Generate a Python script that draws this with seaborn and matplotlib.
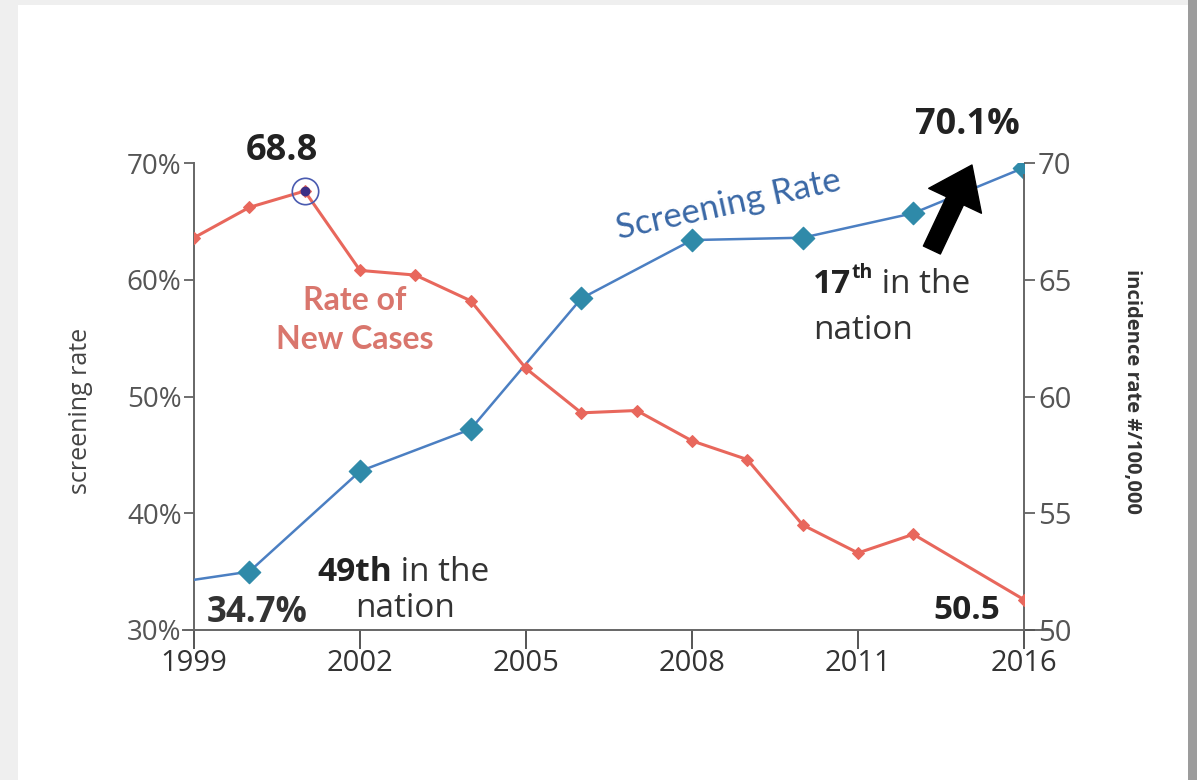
import matplotlib
matplotlib.use("Agg")
import matplotlib.pyplot as plt
import numpy as np
import seaborn as sns
from matplotlib.patches import Rectangle
from matplotlib.ticker import PercentFormatter

# screening rate (%), left axis
screen_years = [1999, 2000, 2002, 2004, 2006, 2008, 2010, 2012, 2016]
screen_rate = [34.3, 35.0, 43.6, 47.2, 58.4, 63.4, 63.6, 65.7, 69.6]

# incidence rate (#/100,000), right axis
case_years = [1999, 2000, 2001, 2002, 2003, 2004, 2005, 2006, 2007, 2008,
              2009, 2010, 2011, 2012, 2016]
case_rate = [66.8, 68.1, 68.8, 65.4, 65.2, 64.1, 61.2, 59.3, 59.4, 58.1,
             57.3, 54.5, 53.3, 54.1, 51.3]

year_ticks = [1999, 2002, 2005, 2008, 2011, 2016]
pct_ticks = [30, 40, 50, 60, 70]
inc_ticks = [50, 55, 60, 65, 70]

BLUE_LINE = "#4b7fc2"
BLUE_MARK = "#2f8aa9"
RED = "#e8675c"
TICK = "#555555"

sns.set_style("ticks")
plt.rcParams["font.family"] = ["Open Sans", "DejaVu Sans"]


def squeeze_late(x):
    # the source chart draws 2012-2016 at half the yearly spacing
    x = np.asarray(x, dtype=float)
    return np.where(x <= 2012, x, 2012 + (x - 2012) / 2)


def unsqueeze_late(x):
    x = np.asarray(x, dtype=float)
    return np.where(x <= 2012, x, 2012 + (x - 2012) * 2)


fig = plt.figure(figsize=(11.97, 7.8), dpi=100)
fig.patch.set_facecolor("#efefef")
fig.patches.append(Rectangle((18 / 1197, 0), 1170 / 1197, 1 - 5 / 780,
                             transform=fig.transFigure, facecolor="white",
                             edgecolor="none", zorder=-2))
fig.patches.append(Rectangle((1188 / 1197, 0), 9 / 1197, 1,
                             transform=fig.transFigure, facecolor="#9c9c9c",
                             edgecolor="none", zorder=-1))

ax = fig.add_axes([194 / 1197, 1 - 630 / 780, 830 / 1197, 467 / 780])
ax.patch.set_alpha(0)
ax2 = ax.twinx()
ax2.patch.set_alpha(0)

# screening rate
sns.lineplot(x=screen_years, y=screen_rate, ax=ax, color=BLUE_LINE,
             linewidth=1.8, zorder=3)
sns.scatterplot(x=screen_years[1:], y=screen_rate[1:], ax=ax, marker="D",
                s=130, color=BLUE_MARK, edgecolor=BLUE_MARK, zorder=4)

# incidence rate
sns.lineplot(x=case_years, y=case_rate, ax=ax2, color=RED, linewidth=2.2,
             marker="D", markersize=6.5, markeredgecolor=RED, zorder=3)
peak = case_rate.index(max(case_rate))
ax2.plot(case_years[peak], case_rate[peak], "o", markersize=6,
         color="#3b2f86", zorder=5)
ax2.plot(case_years[peak], case_rate[peak], "o", markersize=19,
         markerfacecolor="none", markeredgecolor="#4a5bb0",
         markeredgewidth=1.2, zorder=5)

ax.set_xscale("function", functions=(squeeze_late, unsqueeze_late))
ax.set_xlim(1999, 2016)
ax.set_ylim(30, 70)
ax2.set_ylim(50, 69.75)

ax.set_xticks(year_ticks)
ax.set_xticklabels([str(y) for y in year_ticks])
ax.set_yticks(pct_ticks)
ax.yaxis.set_major_formatter(PercentFormatter(decimals=0))
ax2.set_yticks(inc_ticks)

for a in (ax, ax2):
    for s in a.spines.values():
        s.set_color("#666666")
        s.set_linewidth(1.4)
ax.spines["top"].set_visible(False)
ax.spines["right"].set_visible(False)
ax.spines["bottom"].set_bounds(1998.8, 2016.9)
ax2.spines["top"].set_visible(False)
ax2.spines["left"].set_visible(False)
ax2.spines["bottom"].set_visible(False)
ax2.spines["right"].set_bounds(50, 69.5)

ax.tick_params(axis="x", direction="out", length=14, width=1.4, color="#555",
               labelsize=21, labelcolor="#333", pad=0)
ax.tick_params(axis="y", direction="out", length=7, width=1.2, color="#555",
               labelsize=20, labelcolor=TICK, pad=2)
ax2.tick_params(axis="y", direction="out", length=8, width=1.2, color="#555",
                labelsize=21, labelcolor=TICK, pad=2)

ax.set_xlabel("")
ax.set_ylabel("screening rate", fontsize=18, color="#444")
ax.yaxis.set_label_coords(-0.122, 0.47)
ax2.set_ylabel("incidence rate #/100,000", fontsize=14.5, fontweight="bold",
               color="#333", rotation=270, va="center")
ax2.yaxis.set_label_coords(1.13, 0.51)

# value labels
ax2.annotate("68.8", (case_years[peak], case_rate[peak]), xytext=(-23, 40),
             textcoords="offset pixels", ha="center", va="center",
             fontsize=26, fontweight="bold", color="#222")
ax2.annotate("50.5", (case_years[-1], case_rate[-1]), xytext=(-24, -11),
             textcoords="offset pixels", ha="right", va="center",
             fontsize=24, fontweight="bold", color="#222")
ax.annotate("34.7%", (screen_years[1], screen_rate[1]), xytext=(8, -41),
            textcoords="offset pixels", ha="center", va="center",
            fontsize=25, fontweight="bold", color="#333")
ax.annotate("70.1%", (screen_years[-1], screen_rate[-1]), xytext=(-57, 43),
            textcoords="offset pixels", ha="center", va="center",
            fontsize=26, fontweight="bold", color="#222")

# series names
ax.text(0.644, 0.91, "Screening Rate", transform=ax.transAxes,
        rotation=12.4, ha="center", va="center", fontsize=25,
        color="#3a68a6", family=["Lato", "DejaVu Sans"])
ax.text(0.194, 0.664, "Rate of\nNew Cases", transform=ax.transAxes,
        ha="center", va="center", fontsize=23, fontweight="bold",
        color="#d9766d", linespacing=1.45, family=["Lato", "DejaVu Sans"])

# ranking notes
t49 = ax.text(0.149, 0.124, "49th", transform=ax.transAxes, ha="left",
              va="center", fontsize=24, fontweight="bold", color="#222")
ax.annotate(" in the", xy=(1, 0), xycoords=t49, ha="left", va="bottom",
            fontsize=24, color="#333")
ax.text(0.254, 0.047, "nation", transform=ax.transAxes, ha="center",
        va="center", fontsize=24, color="#333")

t17 = ax.text(0.746, 0.739, "17", transform=ax.transAxes, ha="left",
              va="center", fontsize=24, fontweight="bold", color="#222")
tth = ax.annotate("th", xy=(1, 0.55), xycoords=t17, ha="left", va="bottom",
                  fontsize=14, fontweight="bold", color="#222")
ax.annotate(" in the", xy=(1, 0), xycoords=(tth, t17), ha="left",
            va="bottom", fontsize=24, color="#333")
ax.text(0.746, 0.642, "nation", transform=ax.transAxes, ha="left",
        va="center", fontsize=24, color="#333")

ax.annotate("", xy=(0.9373, 0.9957), xytext=(0.889, 0.8137),
            xycoords="axes fraction", textcoords="axes fraction",
            arrowprops=dict(arrowstyle="simple,head_length=0.95,head_width=1.4,tail_width=0.45",
                            mutation_scale=30, color="black", shrinkA=0, shrinkB=0))

fig.savefig("out.png", dpi=100)
